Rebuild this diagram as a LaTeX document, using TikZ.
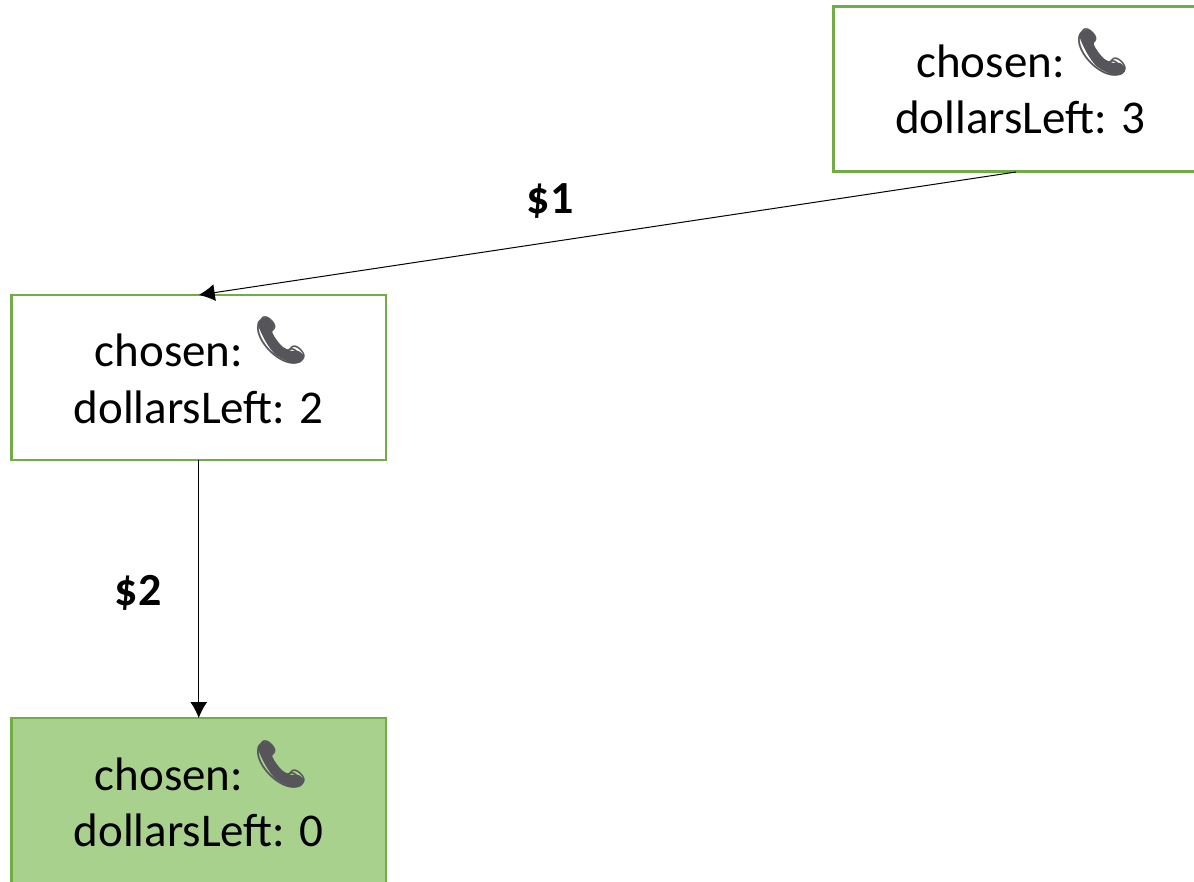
\documentclass[tikz,border=0pt]{standalone}
\usepackage{fontspec}
\setmainfont{Carlito}
\newfontfamily\emojifont{Noto Emoji}
\usetikzlibrary{arrows.meta}
\definecolor{gb}{HTML}{70AD47}
\definecolor{gf}{HTML}{A9D18E}
\definecolor{phonec}{HTML}{55555A}
\tikzset{
 statebox/.style={draw=gb,line width=2.5pt,fill=white,minimum width=374.5pt,minimum height=165pt,inner sep=0pt,outer sep=0pt},
 conn/.style={draw=black,line width=1pt,-{Latex[length=16pt,width=17pt]}},
 lab/.style={font=\fontsize{46}{46}\selectfont\bfseries,inner sep=0pt},
 txt/.style={font=\fontsize{47}{47}\selectfont,inner sep=0pt,anchor=base},
 phone/.style={font=\emojifont\fontsize{47}{47}\selectfont,inner sep=0pt,text=phonec},
 handset/.pic={\fill[phonec,shift={(-24.5,-24.5)}] plot[smooth cycle,tension=0.55] coordinates {(1.5,9) (3,4.5) (10,1.5) (17.5,9) (16,17) (25.3,30) (35.3,35) (42,35) (47.5,40.3) (44.5,46) (35.3,47) (19.5,39) (9.5,26)};}
}
\begin{document}
\begin{tikzpicture}[x=1pt,y=-1pt]
\useasboundingbox (0,0) rectangle (1194,882);
\node[statebox,anchor=north west] (a) at (833.5,6.5) {};
\node[statebox,anchor=north west] (b) at (11.5,295) {};
\node[statebox,anchor=north west,fill=gf,minimum height=166pt] (c) at (11.5,718) {};
\coordinate (aout) at (1016,172);
\draw[conn] (aout) -- (b.north);
\draw[conn] (b.south) -- (c.north);
\node[lab] (l1) at (550,201) {\$1};
\node[lab] (l2) at (138,593) {\$2};
\node[txt] (a1) at (990.5,78) {chosen:};
\pic at (1102.5,52.5) {handset};
\node[phone] (ap) at (1102.5,52.5) {\symbol{"1F4DE}};
\node[txt] (a2) at (1020,134) {dollarsLeft: 3};
\node[txt] (b1) at (169,367) {chosen:};
\pic at (281,340.5) {handset};
\node[phone] (bp) at (281,340.5) {\symbol{"1F4DE}};
\node[txt] (b2) at (198.5,423) {dollarsLeft: 2};
\node[txt] (c1) at (169,790) {chosen:};
\pic at (281,764.5) {handset};
\node[phone] (cp) at (281,764.5) {\symbol{"1F4DE}};
\node[txt] (c2) at (198.5,846) {dollarsLeft: 0};
\end{tikzpicture}
\end{document}
